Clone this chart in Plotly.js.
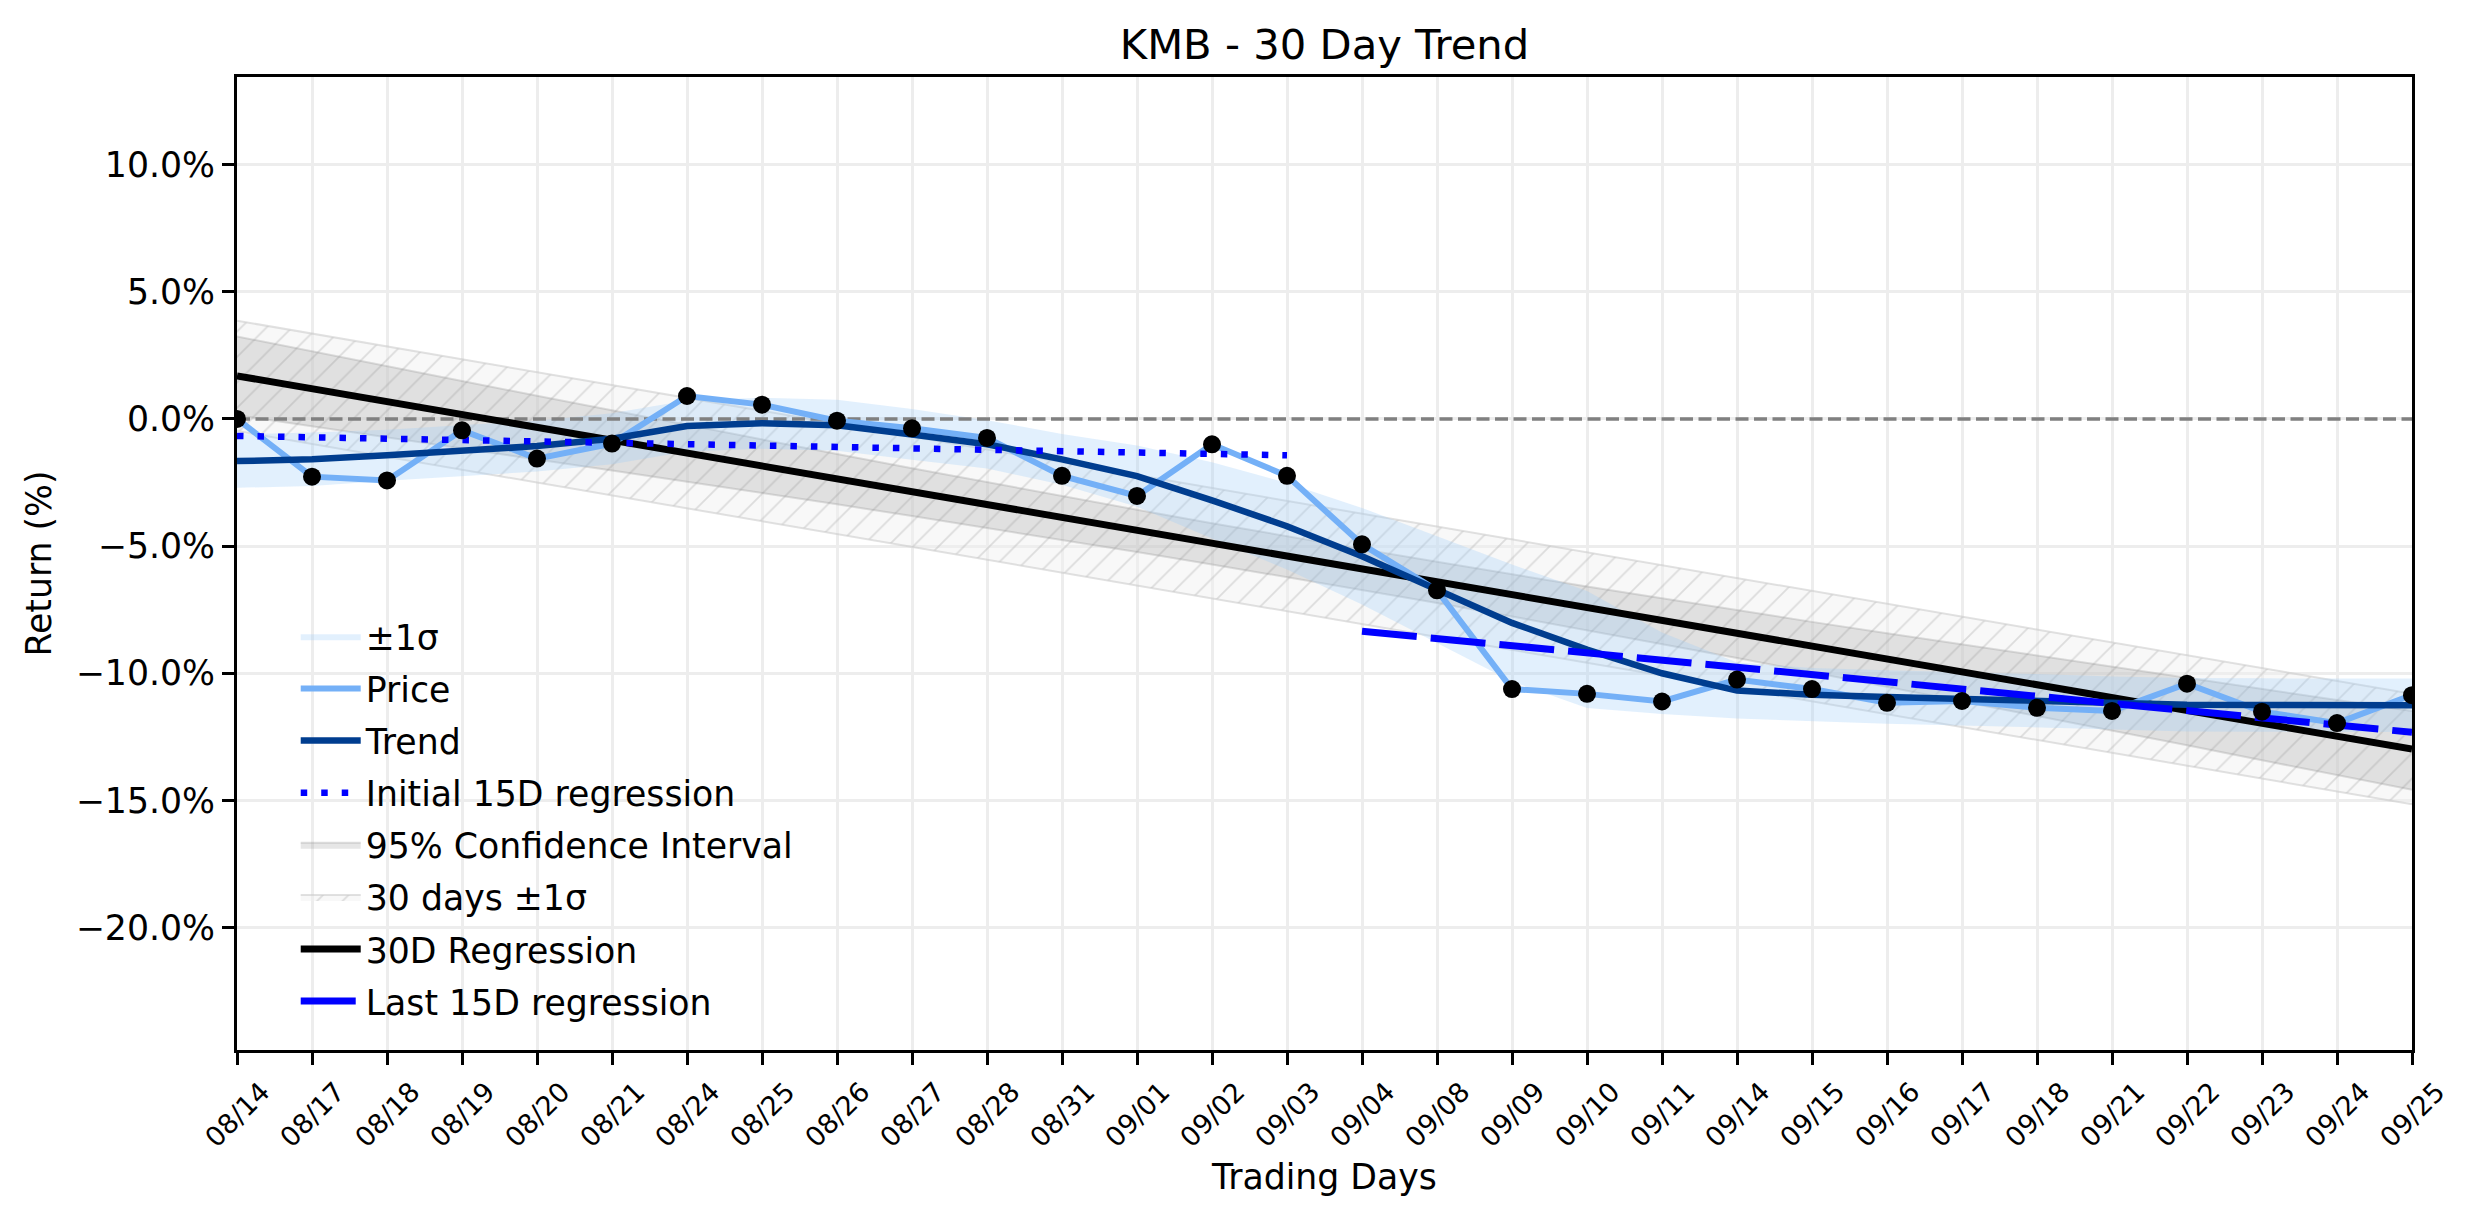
<!DOCTYPE html>
<html>
<head>
<meta charset="utf-8">
<script src="https://cdn.plot.ly/plotly-3.0.1.min.js"></script>
<style>
    html, body { margin: 0; padding: 0; background: #ffffff; }
    #chart { width: 2474px; height: 1224px; }
</style>
</head>
<body>
<div id="chart"></div>
<script>
"use strict";

const tradingDays = [
    "08/14", "08/17", "08/18", "08/19", "08/20", "08/21", "08/24", "08/25",
    "08/26", "08/27", "08/28", "08/31", "09/01", "09/02", "09/03", "09/04",
    "09/08", "09/09", "09/10", "09/11", "09/14", "09/15", "09/16", "09/17",
    "09/18", "09/21", "09/22", "09/23", "09/24", "09/25",
];

// cumulative return (%) of each trading day
const priceReturns = [
    0.0, -2.27, -2.42, -0.45, -1.56, -0.97, 0.9, 0.56,
    -0.07, -0.37, -0.75, -2.24, -3.03, -1.0, -2.24, -4.93,
    -6.74, -10.62, -10.81, -11.11, -10.25, -10.62, -11.16, -11.09,
    -11.36, -11.48, -10.41, -11.51, -11.96, -10.86,
];

// smoothed trend and its ±1σ half-width
const trendReturns = [
    -1.66, -1.59, -1.43, -1.26, -1.07, -0.78, -0.28, -0.17,
    -0.25, -0.61, -1.0, -1.59, -2.25, -3.2, -4.22, -5.4,
    -6.71, -8.02, -9.07, -10.0, -10.68, -10.84, -10.93, -11.0,
    -11.08, -11.18, -11.24, -11.25, -11.26, -11.26,
];
const trendSigma = [
    1.05, 1.05, 1.0, 1.0, 1.0, 1.0, 1.0, 1.0,
    1.0, 1.0, 0.95, 1.0, 1.2, 1.5, 1.7, 1.9,
    2.1, 2.3, 2.3, 1.6, 1.1, 1.05, 1.05, 1.05,
    1.05, 1.05, 1.05, 1.05, 1.05, 1.05,
];

// regression lines (first and last day of each fit)
const regression30 = [1.69, -12.98];
const initial15 = [-0.67, -1.43];
const last15 = [-8.35, -12.32];

// 30 day ±1σ channel edges (first and last day)
const channelUpper = [3.86, -10.81];
const channelLower = [-0.48, -15.15];

// 95% confidence interval of the 30D regression
const ciUpper = [
    3.24, 2.65, 2.08, 1.49, 0.91, 0.33, -0.25, -0.81,
    -1.38, -1.94, -2.49, -3.03, -3.57, -4.10, -4.62, -5.12,
    -5.62, -6.11, -6.59, -7.05, -7.52, -7.98, -8.43, -8.87,
    -9.31, -9.75, -10.19, -10.62, -11.05, -11.48,
];
const ciLower = [
    0.14, -0.29, -0.72, -1.15, -1.59, -2.03, -2.47, -2.91,
    -3.36, -3.82, -4.29, -4.75, -5.23, -5.72, -6.22, -6.72,
    -7.24, -7.77, -8.31, -8.85, -9.40, -9.96, -10.53, -11.09,
    -11.67, -12.25, -12.83, -13.42, -13.99, -14.58,
];

const yTicks = [-20, -15, -10, -5, 0, 5, 10];
const yTickLabels = ["−20.0%", "−15.0%", "−10.0%", "−5.0%", "0.0%", "5.0%", "10.0%"];

const FONT = "DejaVu Sans";
const first = tradingDays[0];
const last = tradingDays[tradingDays.length - 1];
const mid = tradingDays[14];
const midNext = tradingDays[15];

const bandUpper = trendReturns.map((v, i) => v + trendSigma[i]);
const bandLower = trendReturns.map((v, i) => v - trendSigma[i]);

const traces = [
    {
        x: [first, last], y: channelLower,
        mode: "lines", line: { color: "rgba(200,200,200,0.55)", width: 2 },
        showlegend: false, hoverinfo: "skip", legendgroup: "g6",
    },
    {
        x: [first, last], y: channelUpper,
        mode: "lines", line: { color: "rgba(200,200,200,0.55)", width: 2 },
        fill: "tonexty",
        fillcolor: "rgba(240,240,240,0.45)",
        fillpattern: {
            shape: "/", size: 18, solidity: 0.1,
            fgcolor: "rgba(185,185,185,0.45)",
            bgcolor: "rgba(240,240,240,0.45)",
        },
        name: "30 days ±1σ", legendgroup: "g6", legendrank: 6,
    },
    {
        x: tradingDays, y: ciLower,
        mode: "lines", line: { color: "rgba(150,150,150,0.3)", width: 2 },
        showlegend: false, hoverinfo: "skip", legendgroup: "g5",
    },
    {
        x: tradingDays, y: ciUpper,
        mode: "lines", line: { color: "rgba(150,150,150,0.3)", width: 2 },
        fill: "tonexty", fillcolor: "rgba(128,128,128,0.2)",
        name: "95% Confidence Interval", legendgroup: "g5", legendrank: 5,
    },
    {
        x: tradingDays, y: bandLower,
        mode: "lines", line: { width: 0, color: "rgba(0,0,0,0)" },
        showlegend: false, hoverinfo: "skip", legendgroup: "g1",
    },
    {
        x: tradingDays, y: bandUpper,
        mode: "lines", line: { width: 0, color: "rgba(0,0,0,0)" },
        fill: "tonexty", fillcolor: "rgba(160,205,250,0.3)",
        name: "±1σ", legendgroup: "g1", legendrank: 1,
    },
    {
        x: [first, last], y: [0, 0],
        mode: "lines", line: { color: "#808080", width: 3.5, dash: "13px,5.5px" },
        showlegend: false, hoverinfo: "skip",
    },
    {
        x: [first, last], y: regression30,
        mode: "lines", line: { color: "#000000", width: 7 },
        name: "30D Regression", legendgroup: "g7", legendrank: 7,
    },
    {
        x: tradingDays, y: priceReturns,
        mode: "lines", line: { color: "#74b0f7", width: 6 },
        name: "Price", legendgroup: "g2", legendrank: 2,
    },
    {
        x: tradingDays, y: trendReturns,
        mode: "lines", line: { color: "#003d8f", width: 6.5 },
        name: "Trend", legendgroup: "g3", legendrank: 3,
    },
    {
        x: [first, mid], y: initial15,
        mode: "lines", line: { color: "#0000ff", width: 6.5, dash: "6.5px,14px" },
        name: "Initial 15D regression", legendgroup: "g4", legendrank: 4,
    },
    {
        x: [midNext, last], y: last15,
        mode: "lines", line: { color: "#0000ff", width: 7, dash: "55px,14px" },
        name: "Last 15D regression", legendgroup: "g8", legendrank: 8,
    },
    {
        x: tradingDays, y: priceReturns,
        mode: "markers", marker: { color: "#000000", size: 18 },
        showlegend: false,
    },
];

const dayLabels = tradingDays.map((day) => ({
    x: day, xref: "x",
    y: 0, yref: "paper", yshift: -64,
    text: day, textangle: -45,
    showarrow: false, xanchor: "center", yanchor: "middle",
    font: { family: FONT, size: 27, color: "#000000" },
}));

const layout = {
    width: 2474,
    height: 1224,
    margin: { l: 237, r: 62, t: 77, b: 174 },
    paper_bgcolor: "#ffffff",
    plot_bgcolor: "#ffffff",
    font: { family: FONT, color: "#000000", size: 34.7 },
    title: {
        text: "KMB - 30 Day Trend",
        font: { family: FONT, size: 41.7, color: "#000000" },
        x: 0.5, xref: "paper",
        y: 1 - 44 / 1224, yref: "container", yanchor: "middle",
    },
    xaxis: {
        type: "category",
        categoryorder: "array",
        categoryarray: tradingDays,
        range: [0, tradingDays.length - 1],
        showgrid: true, gridcolor: "#ededed", gridwidth: 2.5,
        ticks: "outside", ticklen: 12, tickwidth: 3, tickcolor: "#000000",
        showticklabels: false,
        showline: true, linecolor: "#000000", linewidth: 3, mirror: true,
        zeroline: false,
        title: {
            text: "Trading Days",
            font: { family: FONT, size: 34.7, color: "#000000" },
            standoff: 101,
        },
    },
    yaxis: {
        range: [-24.81, 13.44],
        tickmode: "array",
        tickvals: yTicks,
        ticktext: yTickLabels,
        tickfont: { family: FONT, size: 34.7, color: "#000000" },
        showgrid: true, gridcolor: "#ededed", gridwidth: 2.5,
        ticks: "outside", ticklen: 12, tickwidth: 3, tickcolor: "#000000",
        showline: true, linecolor: "#000000", linewidth: 3, mirror: true,
        zeroline: false,
        title: {
            text: "Return (%)",
            font: { family: FONT, size: 34.7, color: "#000000" },
            standoff: 14,
        },
    },
    legend: {
        x: 0.027, xanchor: "left",
        y: 0.455, yanchor: "top",
        bgcolor: "rgba(0,0,0,0)", borderwidth: 0,
        font: { family: FONT, size: 34.7, color: "#000000" },
        tracegroupgap: 4,
        itemwidth: 60,
    },
    annotations: dayLabels,
    showlegend: true,
};

Plotly.newPlot("chart", traces, layout, {
    displayModeBar: false,
    responsive: false,
});
</script>
</body>
</html>
